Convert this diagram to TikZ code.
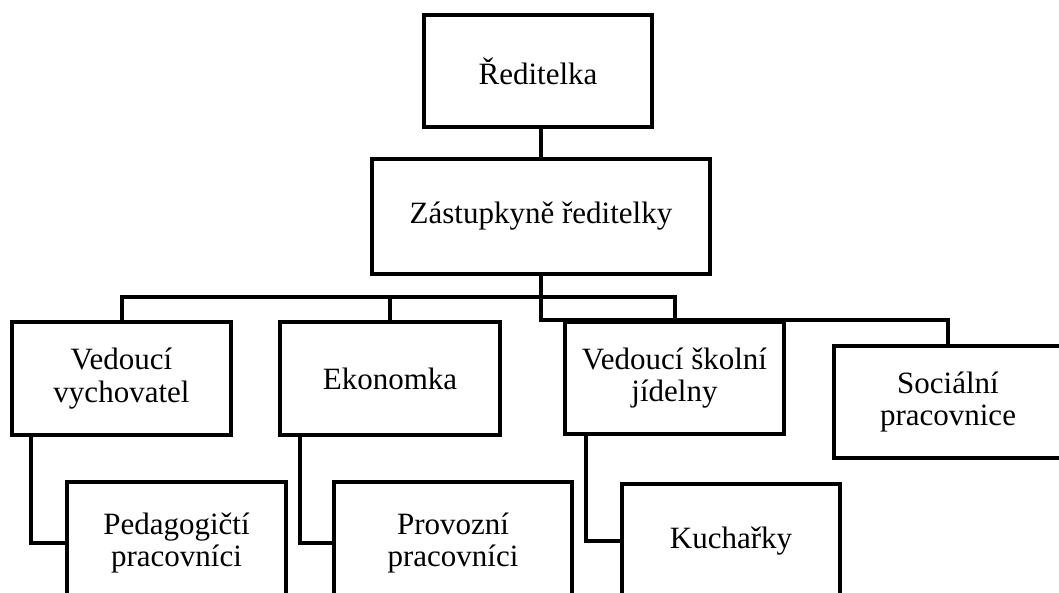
\documentclass[tikz,border=0pt]{standalone}
\usepackage{fontspec}
\newfontfamily\boxfont{Liberation Serif}
\begin{document}
\begin{tikzpicture}[x=1pt,y=-1pt,
  orgbox/.style={draw=black, line width=4pt, rectangle, inner sep=0pt, align=center,
    font=\boxfont\fontsize{31}{32.5}\selectfont},
  conn/.style={draw=black, line width=4pt}]
\useasboundingbox (0,0) rectangle (1059,593);
\clip (0,0) rectangle (1059,593);
\node[orgbox, minimum width=228pt, minimum height=112pt] (R) at (538,71) {Ředitelka};
\node[orgbox, minimum width=338pt, minimum height=115pt] (Z) at (541,216.5) {Zástupkyně ředitelky};
\node[orgbox, minimum width=219pt, minimum height=113pt] (VV) at (121.5,378.5) {Vedoucí\\vychovatel};
\node[orgbox, minimum width=220pt, minimum height=113pt] (E) at (390,378.5) {Ekonomka};
\node[orgbox, minimum width=219pt, minimum height=112pt] (VSJ) at (674.5,378) {Vedoucí školní\\jídelny};
\node[orgbox, minimum width=228pt, minimum height=112pt] (S) at (948,402) {Sociální\\pracovnice};
\node[orgbox, minimum width=219pt, minimum height=122pt] (PP) at (176.5,543) {Pedagogičtí\\pracovníci};
\node[orgbox, minimum width=238pt, minimum height=122pt] (PR) at (453,543) {Provozní\\pracovníci};
\node[orgbox, minimum width=218pt, minimum height=114pt] (K) at (731,541) {Kuchařky};
\coordinate (h) at (0,297);
\draw[conn] (Z.north |- R.south) -- (Z.north);
\draw[conn] (Z.south) -- (Z.south |- VSJ.north) -| (S.north);
\draw[conn] (VV.north) |- (h -| VSJ.north) -- (VSJ.north);
\draw[conn] (E.north) -- (E.north |- h);
\draw[conn] ([xshift=21pt]VV.south west) |- (PP.west);
\draw[conn] ([xshift=22pt]E.south west) |- (PR.west);
\draw[conn] ([xshift=23pt]VSJ.south west) |- (K.west);
\end{tikzpicture}
\end{document}
